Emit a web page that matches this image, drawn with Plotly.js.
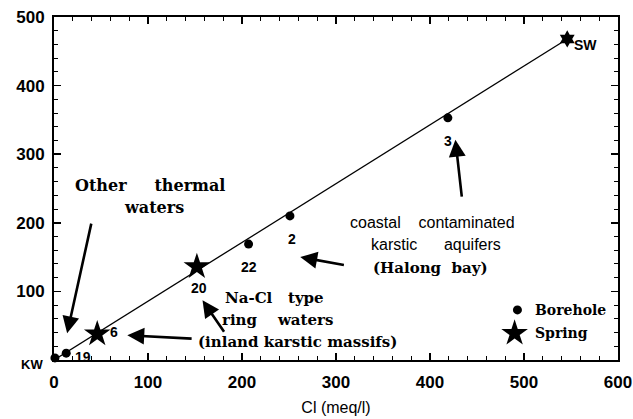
<!DOCTYPE html>
<html><head><meta charset="utf-8">
<script src="https://cdn.plot.ly/plotly-3.0.1.min.js"></script>
<style>html,body{margin:0;padding:0;background:#fff}</style>
</head><body><div id="chart" style="width:633px;height:419px"></div>
<script>
// Data (Cl meq/l vs Na meq/l)
const boreholeLabels = ["KW", "19", "22", "2", "3"];
const boreholeCl = [1, 13, 207, 251, 419];
const boreholeNa = [3, 10, 169, 210, 353];
const springLabels = ["6", "20"];
const springCl = [46, 152];
const springNa = [38, 136];
const seaLabel = ["SW"];
const seaCl = [546];
const seaNa = [468];
const mixCl = [0, 546];
const mixNa = [0, 468];

const SERIF = "DejaVu Serif, Liberation Serif, serif";
const SANS = "Liberation Sans, Arial, sans-serif";
const serifB = {family: SERIF, size: 15, color: "#000", weight: "bold"};
const sans = {family: SANS, size: 16, color: "#000"};
const sansB = {family: SANS, size: 14, color: "#000", weight: "bold"};

const traces = [
  {x: mixCl, y: mixNa, mode: "lines", line: {color: "#000", width: 1.3}, hoverinfo: "skip", cliponaxis: false},
  {x: boreholeCl, y: boreholeNa, mode: "markers", marker: {symbol: "circle", size: 9, color: "#000"}, cliponaxis: false},
  {x: springCl, y: springNa, mode: "markers", marker: {symbol: "star", size: 20, color: "#000"}, cliponaxis: false},
  {x: seaCl, y: seaNa, mode: "markers", marker: {symbol: "hexagram", size: 13, color: "#000"}, cliponaxis: false}
];

// point label offsets (px)
const labelOff = {"KW": [-10, -7, "right"], "19": [7, -4, "left"], "22": [0, -23, "center"], "2": [2, -23, "center"],
  "3": [0, -23, "center"], "6": [11, 2, "left"], "20": [2, -21, "center"], "SW": [5, -6, "left"]};
const ann = [];
function addLabels(labels, xs, ys) {
  labels.forEach((t, i) => {
    const o = labelOff[t];
    ann.push({x: xs[i], y: ys[i], xref: "x", yref: "y", text: t, showarrow: false, xshift: o[0], yshift: o[1],
      xanchor: o[2], yanchor: "middle", font: Object.assign({}, sansB, {size: t === "KW" ? 13 : 14})});
  });
}
addLabels(boreholeLabels, boreholeCl, boreholeNa);
addLabels(springLabels, springCl, springNa);
addLabels(seaLabel, seaCl, seaNa);

function txt(x, y, t, f, anchor) {
  ann.push({x: x, y: y, xref: "x", yref: "y", text: t, showarrow: false, font: f, xanchor: anchor || "center", yanchor: "middle"});
}
const sp = n => "&nbsp;".repeat(n);
txt(102, 254, "Other" + sp(5) + "thermal", Object.assign({}, serifB, {size: 16}));
txt(106, 222, "waters", Object.assign({}, serifB, {size: 16}));
txt(403, 201, "coastal" + sp(4) + "contaminated", sans);
txt(406, 168, "karstic" + sp(6) + "aquifers", sans);
txt(401, 134, "(Halong" + sp(2) + "bay)", serifB);
txt(235, 90, "Na-Cl" + sp(3) + "type", serifB);
txt(238, 58, "ring" + sp(4) + "waters", serifB);
txt(259, 26, "(inland karstic massifs)", serifB);
txt(510, 73, "Borehole", Object.assign({}, serifB, {size: 14}), "left");
txt(510, 39, "Spring", Object.assign({}, serifB, {size: 14}), "left");

function arrow(x0, y0, x1, y1) {
  ann.push({x: x1, y: y1, ax: x0, ay: y0, xref: "x", yref: "y", axref: "x", ayref: "y", text: "", showarrow: true,
    arrowhead: 2, arrowsize: 1.3, arrowwidth: 2.6, arrowcolor: "#000", standoff: 0});
}
arrow(40, 201, 14, 39);
arrow(310, 138, 262, 150);
arrow(434, 236, 427, 321);
arrow(182, 39, 158, 87);
arrow(148, 31, 78, 36);

// legend symbols
const legend = [
  {x: [493], y: [73], mode: "markers", marker: {symbol: "circle", size: 9, color: "#000"}},
  {x: [490], y: [39], mode: "markers", marker: {symbol: "star", size: 20, color: "#000"}}
];

const axisCommon = {showgrid: false, zeroline: false, showline: true, linecolor: "#000", linewidth: 2, mirror: "ticks",
  ticks: "inside", ticklen: 7, tickwidth: 1.5, tickcolor: "#000",
  tickfont: {family: SANS, size: 17, color: "#000", weight: "bold"},
  minor: {ticks: "inside", ticklen: 4, tickwidth: 1, tickcolor: "#000", dtick: 20}};

const layout = {
  width: 633, height: 419, margin: {l: 54, r: 15, t: 17, b: 59}, showlegend: false,
  paper_bgcolor: "#fff", plot_bgcolor: "#fff",
  xaxis: Object.assign({}, axisCommon, {range: [0, 600], dtick: 100, tick0: 0, ticklabelstandoff: 6,
    title: {text: "Cl (meq/l)", font: {family: SANS, size: 16, color: "#000"}, standoff: 10}}),
  yaxis: Object.assign({}, axisCommon, {range: [0, 500], dtick: 100, tick0: 0, ticklabelstandoff: 4,
    tickvals: [100, 200, 300, 400, 500]}),
  annotations: ann
};
Plotly.newPlot("chart", traces.concat(legend), layout, {displayModeBar: false, staticPlot: true});
</script></body></html>
